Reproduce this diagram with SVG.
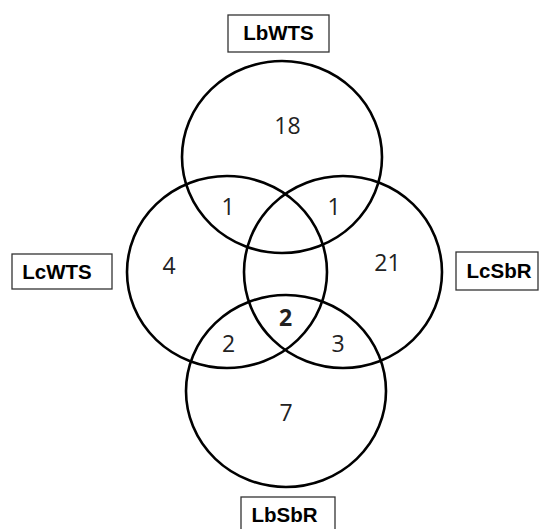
<svg xmlns="http://www.w3.org/2000/svg" width="539" height="529" viewBox="0 0 539 529">
<style>
.c{fill:none;stroke:#000;stroke-width:2.6}
.b{fill:#fff;stroke:#333;stroke-width:1.3}
.l{font-family:"Liberation Sans",Arial,sans-serif;font-weight:bold;font-size:20.5px;fill:#000;text-anchor:middle}
.n{font-family:"Open Sans","Liberation Sans",sans-serif;font-size:23px;fill:#222;text-anchor:middle}
</style>
<rect width="539" height="529" fill="#fff"/>
<g id="sets">
<ellipse id="LbWTS-set" class="c" cx="282" cy="157" rx="100" ry="96"/>
<ellipse id="LcWTS-set" class="c" cx="227" cy="272" rx="100" ry="96"/>
<ellipse id="LcSbR-set" class="c" cx="343" cy="272" rx="99" ry="96"/>
<ellipse id="LbSbR-set" class="c" cx="286" cy="391" rx="100" ry="96"/>
</g>
<g id="LbWTS"><rect class="b" x="228" y="15" width="101" height="37"/><text class="l" x="278.5" y="40">LbWTS</text></g>
<g id="LcWTS"><rect class="b" x="12" y="254" width="100" height="35"/><text class="l" x="57" y="279">LcWTS</text></g>
<g id="LcSbR"><rect class="b" x="456" y="252" width="82" height="38"/><text class="l" x="499" y="278">LcSbR</text></g>
<g id="LbSbR"><rect class="b" x="241" y="497" width="94" height="40"/><text class="l" x="284.5" y="522">LbSbR</text></g>
<g id="counts">
<text class="n" x="287.5" y="134">18</text>
<text class="n" x="228" y="215">1</text>
<text class="n" x="334" y="215">1</text>
<text class="n" x="169" y="274">4</text>
<text class="n" x="387.5" y="271">21</text>
<text class="n" x="285.5" y="326" font-weight="bold">2</text>
<text class="n" x="228.5" y="352">2</text>
<text class="n" x="338" y="352">3</text>
<text class="n" x="286" y="421">7</text>
</g>
</svg>
